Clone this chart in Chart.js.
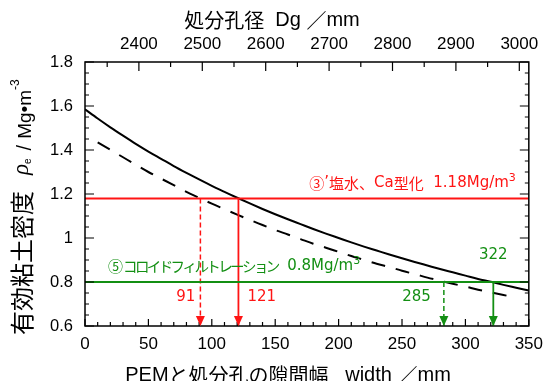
<!DOCTYPE html>
<html><head><meta charset="utf-8">
<script src="https://cdn.jsdelivr.net/npm/chart.js@4.4.1/dist/chart.umd.min.js"></script>
<style>html,body{margin:0;padding:0;background:#fff;}#wrap{width:551px;height:381px;position:relative;}</style>
</head><body><div id="wrap"><canvas id="c"></canvas></div>
<script>
// ---- data ----
const WIDTH_MM = [0,10,20,30,40,50,60,70,80,90,100,110,120,130,140,150,160,170,180,190,200,210,220,230,240,250,260,270,280,290,300,310,320,330,340,350];
const RHO_SOLID = [1.585,1.543,1.503,1.465,1.428,1.393,1.360,1.327,1.296,1.266,1.237,1.210,1.183,1.157,1.132,1.108,1.085,1.063,1.041,1.020,1.000,0.980,0.961,0.943,0.925,0.908,0.891,0.875,0.859,0.844,0.829,0.814,0.801,0.787,0.774,0.761];
const WIDTH_MM_DASHED = [10,20,30,40,50,60,70,80,90,100,110,120,130,140,150,160,170,180,190,200,210,220,230,240,250,260,270,280,290,300,310,320,330,340];
const RHO_DASHED = [1.435,1.401,1.367,1.333,1.300,1.270,1.240,1.210,1.183,1.156,1.131,1.106,1.082,1.059,1.036,1.016,0.995,0.974,0.956,0.937,0.918,0.901,0.883,0.868,0.851,0.836,0.820,0.806,0.792,0.779,0.765,0.753,0.741,0.729];
const X_TICKS = [0,50,100,150,200,250,300,350];
const Y_TICKS = [0.6,0.8,1.0,1.2,1.4,1.6,1.8];
const Y_TICK_LABELS = ['0.6','0.8','1','1.2','1.4','1.6','1.8'];
const DG_TICKS = [2400,2500,2600,2700,2800,2900,3000];
const X_RANGE = [0,350];
const Y_RANGE = [0.6,1.8];
const DG_RANGE = [2315,3015];
const LEVEL_RED = 1.18;
const LEVEL_GREEN = 0.8;
const ARROWS_RED = [91,121];
const ARROWS_GREEN = [283,322];
const ARROW_LABELS_RED = ['91','121'];
const ARROW_LABELS_GREEN = ['285','322'];

const RED = '#ff1414';
const GREEN = '#138f13';
const LAT = '"DejaVu Sans", "Noto Sans CJK JP"';
const ARIAL = '"Liberation Sans", "Noto Sans CJK JP"';
const CJK = '"Noto Sans CJK JP"';

function pts(xs, ys){ return xs.map((x,i)=>({x:x,y:ys[i]})); }
function vline(x, y0, y1){ return [{x:x,y:y0},{x:x,y:y1}]; }

function drawRuns(ctx, runs, x, y, align){
  let total = 0;
  runs.forEach(r=>{ ctx.font = r.font; ctx.letterSpacing = (r.ls||0)+'px'; r.w = ctx.measureText(r.t).width; total += r.w + (r.gap||0); });
  let cx = align==='right' ? x-total : align==='center' ? x-total/2 : x;
  runs.forEach(r=>{ ctx.font = r.font; ctx.letterSpacing = (r.ls||0)+'px'; ctx.fillText(r.t, cx, y + (r.dy||0)); cx += r.w + (r.gap||0); });
  ctx.letterSpacing = '0px';
}

const decor = {
  id:'decor',
  afterDatasetsDraw(chart){
    const ctx = chart.ctx, a = chart.chartArea;
    const xs = chart.scales.x, ys = chart.scales.y, ts = chart.scales.xTop;
    ctx.save();
    // frame
    ctx.strokeStyle = '#000'; ctx.lineWidth = 1.5;
    ctx.strokeRect(a.left, a.top, a.right-a.left, a.bottom-a.top);
    ctx.lineWidth = 1.2;
    ctx.beginPath();
    for (let v = X_RANGE[0]; v <= X_RANGE[1]+1e-9; v += 10){
      const p = xs.getPixelForValue(v); const L = (v%50===0)?7:4;
      ctx.moveTo(p, a.bottom); ctx.lineTo(p, a.bottom-L);
    }
    for (let v = 2350; v <= DG_RANGE[1]; v += 50){
      const p = ts.getPixelForValue(v); const L = (v%100===0)?9:5;
      ctx.moveTo(p, a.top); ctx.lineTo(p, a.top+L);
    }
    for (let i = 0; i <= 24; i++){
      const v = Y_RANGE[0] + i*0.05; const p = ys.getPixelForValue(v); const L = (i%4===0)?9:4;
      ctx.moveTo(a.left, p); ctx.lineTo(a.left+L, p);
      ctx.moveTo(a.right, p); ctx.lineTo(a.right-L, p);
    }
    ctx.stroke();
    // arrowheads
    function head(xv, col){
      const p = xs.getPixelForValue(xv);
      ctx.fillStyle = col; ctx.beginPath();
      ctx.moveTo(p, a.bottom); ctx.lineTo(p-4.5, a.bottom-10); ctx.lineTo(p+4.5, a.bottom-10); ctx.closePath(); ctx.fill();
    }
    ARROWS_RED.forEach(v=>head(v, RED));
    ARROWS_GREEN.forEach(v=>head(v, GREEN));
    // arrow labels
    ctx.textBaseline = 'middle';
    const yr = ys.getPixelForValue(LEVEL_RED), yg = ys.getPixelForValue(LEVEL_GREEN);
    ctx.font = '15px '+LAT;
    ctx.fillStyle = RED;
    ctx.textAlign = 'right'; ctx.fillText(ARROW_LABELS_RED[0], xs.getPixelForValue(ARROWS_RED[0])-5, a.bottom-29);
    ctx.textAlign = 'left'; ctx.fillText(ARROW_LABELS_RED[1], xs.getPixelForValue(ARROWS_RED[1])+9, a.bottom-29);
    ctx.fillStyle = GREEN;
    ctx.textAlign = 'right'; ctx.fillText(ARROW_LABELS_GREEN[0], xs.getPixelForValue(ARROWS_GREEN[0])-13, a.bottom-29);
    ctx.textAlign = 'center'; ctx.fillText(ARROW_LABELS_GREEN[1], xs.getPixelForValue(ARROWS_GREEN[1]), yg-27);
    // level labels
    ctx.textAlign = 'left';
    ctx.fillStyle = RED;
    drawRuns(ctx, [
      {t:'③', font:'15px '+CJK},
      {t:'’', font:'15px '+LAT},
      {t:'塩水、', font:'15px '+CJK},
      {t:'Ca', font:'15px '+LAT},
      {t:'型化', font:'15px '+CJK},
      {t:'  1.18Mg/m', font:'15px '+LAT},
      {t:'3', font:'11px '+LAT, dy:-5}
    ], a.right-13, yr-15.5, 'right');
    ctx.fillStyle = GREEN;
    drawRuns(ctx, [
      {t:'⑤', font:'15px '+CJK},
      {t:'コロイドフィルトレーション', font:'14.5px '+CJK, ls:-2.6},
      {t:'  0.8Mg/m', font:'15px '+LAT},
      {t:'3', font:'11px '+LAT, dy:-5}
    ], a.left+23, yg-15.5, 'left');
    // axis titles
    ctx.fillStyle = '#000';
    drawRuns(ctx, [
      {t:'処分孔径', font:'20px '+CJK},
      {t:'  Dg ', font:'20px '+ARIAL},
      {t:'／', font:'20px '+CJK},
      {t:'mm', font:'20px '+ARIAL}
    ], 272, 20, 'center');
    drawRuns(ctx, [
      {t:'PEM', font:'20px '+ARIAL},
      {t:'と処分孔の隙間幅', font:'20px '+CJK},
      {t:'   width ', font:'20px '+ARIAL},
      {t:'／', font:'20px '+CJK},
      {t:'mm', font:'20px '+ARIAL}
    ], 288, 375, 'center');
    // left title (rotated)
    ctx.translate(31, 335); ctx.rotate(-Math.PI/2);
    ctx.textBaseline = 'alphabetic'; ctx.textAlign = 'left';
    drawRuns(ctx, [
      {t:'有効粘土密度', font:'24px '+CJK, gap:16},
      {t:'ρ', font:'italic 23px "Liberation Serif"', dy:-3},
      {t:'e', font:'10px '+ARIAL, gap:8},
      {t:'/', font:'20px '+ARIAL, gap:6},
      {t:'Mg', font:'19px '+ARIAL},
      {t:'•', font:'19px '+ARIAL},
      {t:'m', font:'19px '+ARIAL},
      {t:'-3', font:'12px '+ARIAL, dy:-12}
    ], 0, 0, 'left');
    ctx.restore();
  }
};

const tickFont = {family:'Liberation Sans', size:17};
new Chart(document.getElementById('c'), {
  type:'line',
  data:{datasets:[
    {data:[{x:X_RANGE[0],y:LEVEL_RED},{x:X_RANGE[1],y:LEVEL_RED}], borderColor:RED, borderWidth:2},
    {data:[{x:X_RANGE[0],y:LEVEL_GREEN},{x:X_RANGE[1],y:LEVEL_GREEN}], borderColor:GREEN, borderWidth:2},
    {data:vline(ARROWS_RED[0],LEVEL_RED,Y_RANGE[0]), borderColor:RED, borderWidth:1.5, borderDash:[5,3]},
    {data:vline(ARROWS_RED[1],LEVEL_RED,Y_RANGE[0]), borderColor:RED, borderWidth:1.8},
    {data:vline(ARROWS_GREEN[0],LEVEL_GREEN,Y_RANGE[0]), borderColor:GREEN, borderWidth:1.5, borderDash:[5,3]},
    {data:vline(ARROWS_GREEN[1],LEVEL_GREEN,Y_RANGE[0]), borderColor:GREEN, borderWidth:1.8},
    {data:pts(WIDTH_MM,RHO_SOLID), borderColor:'#000', borderWidth:2, cubicInterpolationMode:'monotone'},
    {data:pts(WIDTH_MM_DASHED,RHO_DASHED), borderColor:'#000', borderWidth:2, borderDash:[14,11], cubicInterpolationMode:'monotone'}
  ]},
  options:{
    responsive:true, maintainAspectRatio:false, animation:false,
    layout:{padding:0},
    plugins:{legend:{display:false}, tooltip:{enabled:false}},
    elements:{point:{radius:0}, line:{fill:false}},
    scales:{
      x:{type:'linear', position:'bottom', min:X_RANGE[0], max:X_RANGE[1],
        afterBuildTicks:s=>{s.ticks = X_TICKS.map(v=>({value:v}));},
        afterFit:s=>{s.height = 55;},
        grid:{display:false, drawTicks:false}, border:{display:false},
        ticks:{font:tickFont, color:'#000', padding:8, maxRotation:0, autoSkip:false, callback:v=>String(v)}},
      xTop:{type:'linear', position:'top', min:DG_RANGE[0], max:DG_RANGE[1],
        afterBuildTicks:s=>{s.ticks = DG_TICKS.map(v=>({value:v}));},
        afterFit:s=>{s.height = 62;},
        grid:{display:false, drawTicks:false}, border:{display:false},
        ticks:{font:tickFont, color:'#000', padding:7, maxRotation:0, autoSkip:false, callback:v=>String(v)}},
      y:{type:'linear', position:'left', min:Y_RANGE[0], max:Y_RANGE[1],
        afterBuildTicks:s=>{s.ticks = Y_TICKS.map(v=>({value:v}));},
        afterFit:s=>{s.width = 85;},
        grid:{display:false, drawTicks:false}, border:{display:false},
        ticks:{font:{family:'Liberation Sans', size:16.5}, color:'#000', padding:12, autoSkip:false, callback:v=>Y_TICK_LABELS[Y_TICKS.indexOf(v)]}},
      yR:{type:'linear', position:'right', min:Y_RANGE[0], max:Y_RANGE[1],
        afterFit:s=>{s.width = 20;},
        grid:{display:false, drawTicks:false}, border:{display:false},
        ticks:{display:false}}
    }
  },
  plugins:[decor]
});
</script></body></html>
